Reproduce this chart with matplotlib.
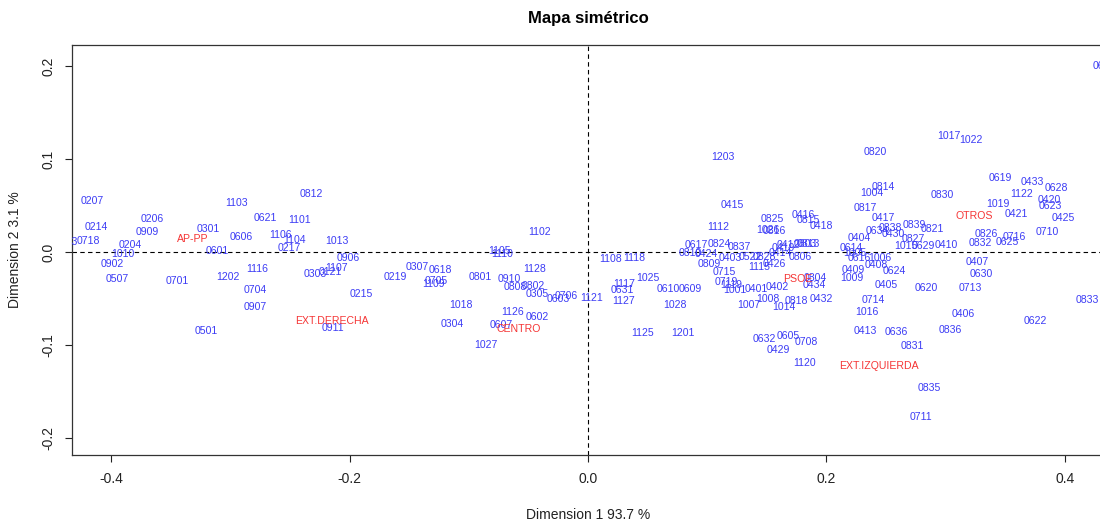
import matplotlib
matplotlib.use("Agg")
import matplotlib.pyplot as plt

plt.rcParams['font.family'] = ['Liberation Sans', 'DejaVu Sans']
plt.rcParams['axes.unicode_minus'] = False

# Column points (blue labels)
col_labels = [
    "0207","1103","0812","0206","0621","1101","0214","0909","0301","0606",
    "1106","1104","1013","0213","0718","0204","1010","0601","0217","0906",
    "0902","1116","0303","0121","1107","0507","0701","1202","0704","0215",
    "0907","0911","0501","1102","1105","1110","0307","0618","1128","0219",
    "0705","1109","0801","0910","0802","0808","0305","0706","0603","1121",
    "1018","1126","0602","0304","0607","1027","1203","0415","0825","0416",
    "0815","0418","1112","1026","0816","0803","0813","0419","0412","0617",
    "0824","0837","0810","0424","0403","0522","0828","0414","1115","0426",
    "0806","1108","1118","0809","0715","1025","1117","0631","0610","0609",
    "0719","1119","1001","0401","0402","0804","0434","1127","1028","1008",
    "0818","0432","1007","1014","1125","1201","0632","0605","0708","0429",
    "1120","1017","1022","0820","0619","0433","0628","0814","1004","0830",
    "1122","0420","0623","1019","0817","0421","0425","0417","0838","0839",
    "0821","0634","0430","0404","0827","0826","0716","0710","0832","0625",
    "1015","0629","0410","0614","1005","0616","1006","0408","0407","0630",
    "0409","1009","0624","0405","0620","0713","0714","0833","1016","0406",
    "0622","0413","0636","0836","0831","0835","0711","0626","0627",
]
col_dim1 = [
    -0.416,-0.295,-0.232,-0.366,-0.271,-0.242,-0.413,-0.370,-0.319,-0.291,
    -0.258,-0.246,-0.211,-0.438,-0.419,-0.384,-0.390,-0.311,-0.251,-0.201,
    -0.399,-0.278,-0.229,-0.216,-0.211,-0.395,-0.345,-0.302,-0.279,-0.190,
    -0.279,-0.214,-0.320,-0.041,-0.074,-0.072,-0.143,-0.124,-0.045,-0.162,
    -0.127,-0.130,-0.090,-0.066,-0.046,-0.061,-0.043,-0.018,-0.025,0.003,
    -0.107,-0.063,-0.043,-0.114,-0.073,-0.086,0.113,0.121,0.155,0.181,
    0.185,0.196,0.109,0.151,0.156,0.182,0.185,0.164,0.168,0.091,
    0.110,0.127,0.086,0.099,0.119,0.136,0.148,0.161,0.144,0.156,
    0.178,0.019,0.039,0.102,0.114,0.050,0.030,0.029,0.067,0.086,
    0.116,0.120,0.123,0.141,0.159,0.191,0.190,0.030,0.073,0.151,
    0.175,0.196,0.135,0.164,0.046,0.080,0.148,0.168,0.183,0.160,
    0.182,0.303,0.321,0.241,0.346,0.373,0.393,0.248,0.238,0.297,
    0.364,0.387,0.388,0.344,0.233,0.359,0.399,0.248,0.254,0.274,
    0.289,0.243,0.256,0.228,0.273,0.334,0.358,0.385,0.329,0.352,
    0.267,0.281,0.301,0.221,0.224,0.228,0.245,0.242,0.327,0.330,
    0.223,0.221,0.257,0.250,0.284,0.321,0.239,0.419,0.234,0.315,
    0.375,0.233,0.259,0.304,0.272,0.286,0.279,0.433,0.440,
]
col_dim2 = [
    0.055,0.053,0.062,0.035,0.037,0.034,0.027,0.022,0.025,0.016,
    0.018,0.013,0.012,0.011,0.012,0.007,-0.002,0.001,0.004,-0.006,
    -0.013,-0.018,-0.024,-0.022,-0.017,-0.029,-0.031,-0.027,-0.041,-0.045,
    -0.059,-0.082,-0.085,0.022,0.001,-0.002,-0.016,-0.019,-0.018,-0.027,
    -0.031,-0.034,-0.027,-0.029,-0.037,-0.038,-0.045,-0.047,-0.051,-0.049,
    -0.057,-0.065,-0.070,-0.077,-0.079,-0.100,0.102,0.051,0.035,0.040,
    0.034,0.028,0.027,0.024,0.023,0.009,0.009,0.004,0.007,0.008,
    0.009,0.005,-0.001,-0.002,-0.006,-0.005,-0.005,-0.001,-0.016,-0.013,
    -0.005,-0.008,-0.006,-0.013,-0.022,-0.028,-0.034,-0.041,-0.040,-0.040,
    -0.032,-0.035,-0.041,-0.040,-0.038,-0.028,-0.035,-0.053,-0.057,-0.051,
    -0.053,-0.051,-0.057,-0.059,-0.087,-0.087,-0.094,-0.090,-0.097,-0.105,
    -0.119,0.125,0.120,0.108,0.080,0.075,0.069,0.070,0.063,0.061,
    0.062,0.056,0.049,0.052,0.047,0.041,0.037,0.037,0.026,0.029,
    0.025,0.023,0.019,0.015,0.014,0.019,0.016,0.021,0.010,0.011,
    0.006,0.006,0.008,0.004,-0.001,-0.006,-0.006,-0.014,-0.011,-0.024,
    -0.019,-0.028,-0.020,-0.035,-0.039,-0.039,-0.052,-0.052,-0.065,-0.067,
    -0.074,-0.085,-0.086,-0.084,-0.101,-0.146,-0.177,0.200,0.133,
]

# Row points (red labels)
row_labels = ["AP-PP", "EXT.DERECHA", "CENTRO", "PSOE", "OTROS", "EXT.IZQUIERDA"]
row_dim1 = [-0.332, -0.215, -0.058, 0.176, 0.324, 0.244]
row_dim2 = [0.014, -0.074, -0.083, -0.029, 0.039, -0.123]

x_ticks = [-0.4, -0.2, 0.0, 0.2, 0.4]
y_ticks = [-0.2, -0.1, 0.0, 0.1, 0.2]

W, H = 1100, 523
fig = plt.figure(figsize=(W / 100, H / 100), dpi=100)
ax = fig.add_axes([72 / W, (H - 455) / H, (1104 - 72) / W, (455 - 45) / H])
ax.set_xlim(-0.433, 0.433)
ax.set_ylim(-0.2183, 0.2226)

ax.axhline(0, color='black', lw=0.8, ls=(0, (4, 3)), zorder=1)
ax.axvline(0, color='black', lw=0.8, ls=(0, (4, 3)), zorder=1)

blue = '#3c3cf5'
red = '#f53535'
for lab, x, y in zip(col_labels, col_dim1, col_dim2):
    ax.text(x, y, lab, color=blue, fontsize=7.6, ha='center', va='center', clip_on=True)
for lab, x, y in zip(row_labels, row_dim1, row_dim2):
    ax.text(x, y, lab, color=red, fontsize=7.6, ha='center', va='center', clip_on=True)

ax.set_xticks(x_ticks)
ax.set_xticklabels([f"{v:.1f}" for v in x_ticks])
ax.set_yticks(y_ticks)
ax.set_yticklabels([f"{v:.1f}" for v in y_ticks], rotation=90, va='center')
ax.tick_params(axis='both', direction='out', length=5, width=0.8, labelsize=10, pad=7, colors='#222222')
for s in ax.spines.values():
    s.set_linewidth(0.9)
    s.set_color('#333333')

fig.text(588 / W, 1 - 18 / H, "Mapa simétrico", ha='center', va='center', fontsize=12, fontweight='bold')
fig.text(588 / W, 1 - 515 / H, "Dimension 1 93.7 %", ha='center', va='center', fontsize=10, color='#222222')
fig.text(15 / W, 1 - 250 / H, "Dimension 2 3.1 %", ha='center', va='center', fontsize=10, rotation=90, color='#222222')

fig.savefig("out.png", dpi=100)
